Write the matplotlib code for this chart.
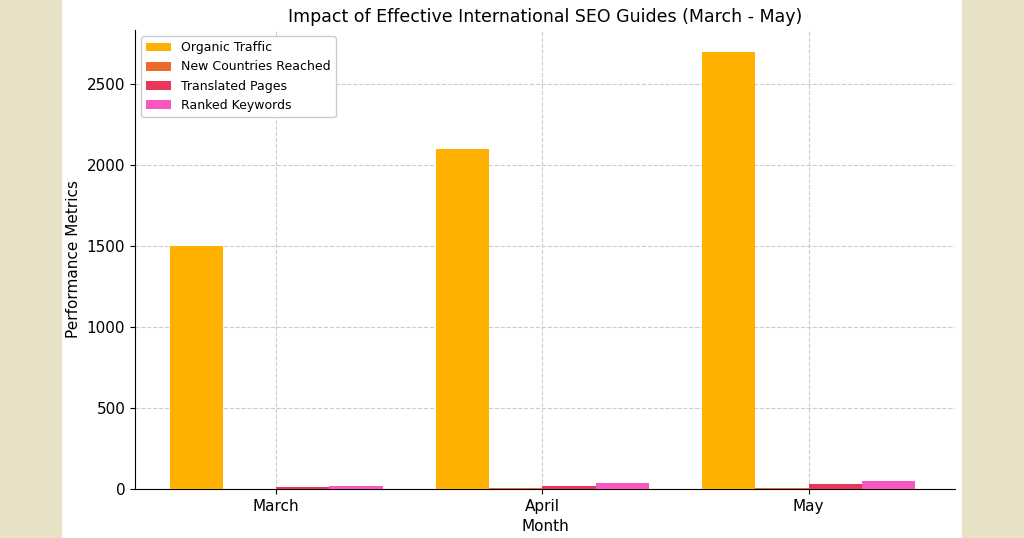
import matplotlib
matplotlib.use("Agg")
import matplotlib.pyplot as plt
import numpy as np
from matplotlib.patches import Rectangle

months = ["March", "April", "May"]
organic_traffic = [1500, 2100, 2700]
new_countries = [3, 5, 7]
translated_pages = [10, 18, 28]
ranked_keywords = [20, 35, 50]

series = [
    ("Organic Traffic", organic_traffic, "#FFB000"),
    ("New Countries Reached", new_countries, "#EE6A2C"),
    ("Translated Pages", translated_pages, "#E8365A"),
    ("Ranked Keywords", ranked_keywords, "#F857C0"),
]

fig = plt.figure(figsize=(10.24, 5.38), dpi=100)
fig.patch.set_facecolor("#E9E1C6")
fig.add_artist(Rectangle((62 / 1024, 0), 900 / 1024, 1, transform=fig.transFigure,
                         facecolor="white", edgecolor="none", zorder=0))
ax = fig.add_axes([135 / 1024, 49 / 538, 820 / 1024, 459 / 538])
ax.set_facecolor("white")

x = np.arange(len(months))
w = 0.2
offsets = [-0.3, -0.1, 0.1, 0.3]
for (label, vals, color), off in zip(series, offsets):
    ax.bar(x + off, vals, w, label=label, color=color, zorder=3)

ax.set_xticks(x)
ax.set_xticklabels(months, fontsize=11)
ax.set_xlim(-0.53, 2.55)
ax.set_ylim(0, 2835)
ax.set_yticks([0, 500, 1000, 1500, 2000, 2500])
ax.tick_params(axis="y", labelsize=11)
ax.grid(True, linestyle="--", color="#cccccc", linewidth=0.8, zorder=0)
for s in ["top", "right"]:
    ax.spines[s].set_visible(False)
ax.set_xlabel("Month", fontsize=11)
ax.set_ylabel("Performance Metrics", fontsize=11)
ax.set_title("Impact of Effective International SEO Guides (March - May)", fontsize=12.5)
ax.legend(loc="upper left", fontsize=9, framealpha=1, edgecolor="#cccccc")

fig.savefig("out.png", dpi=100, facecolor=fig.get_facecolor())
